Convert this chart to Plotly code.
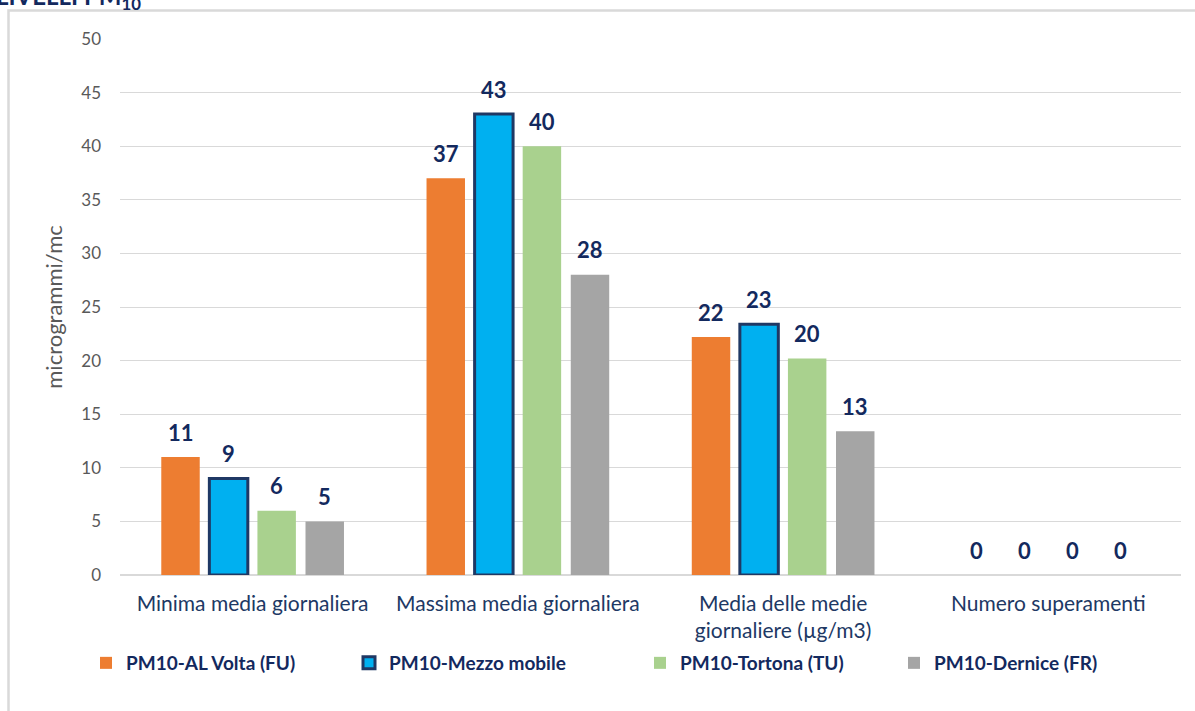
import plotly.graph_objects as go

# Categories and series values (µg/m3)
categories = [
    "Minima media giornaliera",
    "Massima media giornaliera",
    "Media delle medie<br>giornaliere (µg/m3)",
    "Numero superamenti",
]
series_names = [
    "PM10-AL Volta (FU)",
    "PM10-Mezzo mobile",
    "PM10-Tortona (TU)",
    "PM10-Dernice (FR)",
]
al_volta = [11, 37, 22.2, 0]
mezzo_mobile = [9, 43, 23.4, 0]
tortona = [6, 40, 20.2, 0]
dernice = [5, 28, 13.4, 0]
y_ticks = [0, 5, 10, 15, 20, 25, 30, 35, 40, 45, 50]

values = [al_volta, mezzo_mobile, tortona, dernice]
colors = ["#ED7D31", "#00B0F0", "#A9D18E", "#A5A5A5"]
line_colors = ["#ED7D31", "#1F3864", "#A9D18E", "#A5A5A5"]
line_widths = [0, 3, 0, 0]
legend_ids = ["legend", "legend2", "legend3", "legend4"]

NAVY = "#13295E"
FONT = "Lato"

# plot area in pixels
W, H = 1195, 711
L, R, T, B = 120, 1181, 39, 575
pw, ph = R - L, B - T


def px_x(p):
    return (p - L) / pw


def px_y(p):
    return (B - p) / ph


BARGAP = 0.275
GROUPGAP = 0.2

fig = go.Figure()
for k, (name, vals) in enumerate(zip(series_names, values)):
    # no outline on empty bars
    widths = [line_widths[k] if v > 0 else 0 for v in vals]
    fig.add_trace(go.Bar(
        x=categories,
        y=vals,
        name=name,
        marker=dict(color=colors[k],
                    line=dict(color=line_colors[k], width=widths)),
        legend=legend_ids[k],
        showlegend=True,
    ))

# value labels above each bar
slot = (1 - BARGAP) / len(series_names)
annotations = []
for k, vals in enumerate(values):
    off = -(1 - BARGAP) / 2 + (k + 0.5) * slot
    for i, v in enumerate(vals):
        annotations.append(dict(
            x=i + off, y=v, xref="x", yref="y",
            text=f"{v:.0f}", showarrow=False,
            yanchor="middle", yshift=25,
            font=dict(family=FONT, size=22, color=NAVY, weight="bold"),
        ))

# heading above the chart frame
annotations.append(dict(
    x=px_x(143), y=px_y(16), xref="paper", yref="paper",
    xanchor="right", yanchor="bottom", showarrow=False,
    text="LIVELLI PM<sub>10</sub>",
    font=dict(family=FONT, size=24, color=NAVY, weight="bold"),
))

legend_x_px = [96, 359, 650, 904]
legend_common = dict(
    orientation="h", yanchor="middle", xanchor="left",
    bgcolor="rgba(0,0,0,0)",
    font=dict(family=FONT, size=19, color=NAVY, weight="bold"),
    itemwidth=30,
)
legends = {}
for lid, lx in zip(legend_ids, legend_x_px):
    legends[lid] = dict(legend_common, x=px_x(lx - 10), y=px_y(663))

fig.update_layout(
    width=W, height=H,
    margin=dict(l=L, r=W - R, t=T, b=H - B),
    paper_bgcolor="white", plot_bgcolor="white",
    showlegend=True,
    barmode="group", bargap=BARGAP, bargroupgap=GROUPGAP,
    font=dict(family=FONT, color="#595959"),
    annotations=annotations,
    **legends,
    xaxis=dict(
        type="category",
        showgrid=False, showline=False, ticks="",
        tickfont=dict(family=FONT, size=21, color="#203864"),
        ticklabelstandoff=14,
    ),
    yaxis=dict(
        range=[0, 50], tickvals=y_ticks,
        showgrid=True, gridcolor="#D9D9D9", gridwidth=1,
        zeroline=True, zerolinecolor="#D9D9D9", zerolinewidth=2,
        showline=False, ticks="",
        tickfont=dict(family=FONT, size=17, color="#595959"),
        ticklabelstandoff=18,
        title=dict(text="microgrammi/mc",
                   font=dict(family=FONT, size=22, color="#595959"),
                   standoff=12),
    ),
    shapes=[dict(
        type="rect", xref="paper", yref="paper", layer="below",
        x0=px_x(8.5), x1=px_x(1210), y0=px_y(725), y1=px_y(10.5),
        line=dict(color="#D9D9D9", width=2.5), fillcolor="rgba(0,0,0,0)",
    )],
)

fig.write_html("out.html")
